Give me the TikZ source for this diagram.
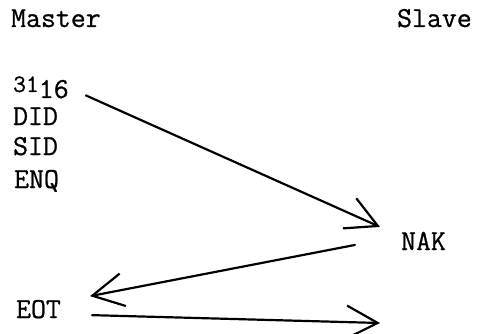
\documentclass[tikz,border=0pt]{standalone}
\usepackage{fontspec}
\newfontfamily\typer{Latin Modern Mono}[FakeBold=0.8]
\usepackage{tikz}
\usetikzlibrary{arrows.meta,positioning,calc}
\tikzset{
  every picture/.append style={line width=2.2pt},
  every node/.append style={font=\typer\fontsize{29}{31}\selectfont},
}
\newcommand{\hexval}[2]{\raisebox{6pt}{\fontsize{25}{27}\selectfont #1}#2}

\begin{document}
\begin{tikzpicture}[
  x=1pt, y=-1pt,
  lbl/.style={inner sep=0pt, anchor=base west},
  msg/.style={-{Straight Barb[length=31pt, width=33pt]}, line cap=round},
]
\useasboundingbox (0,0) rectangle (481,334);

% --- column heads ---
\node[lbl] (master) at (10,27) {Master};
\node[lbl] (slave) at (396,27) {Slave};

% --- master sends the poll sequence ---
\node[lbl] (hex) at (12,98) {\hexval{31}{16}};
\node[lbl] (did) at (12,125) {DID};
\node[lbl] (sid) at (12,155) {SID};
\node[lbl] (enq) at (13,188) {ENQ};

% --- replies ---
\node[lbl] (nak) at (400,250) {NAK};
\node[lbl] (eot) at (15,318) {EOT};
\coordinate (eotin) at (380,323);

% --- message arrows ---
\draw[msg] ([xshift=16pt,yshift=-8pt]hex.east) -- ([xshift=-20pt,yshift=14pt]nak.west);
\draw[msg] ([xshift=-45pt,yshift=-4pt]nak.west) -- ([xshift=28pt,yshift=13pt]eot.east);
\draw[msg] ([xshift=30pt,yshift=-6pt]eot.east) -- (eotin);

\end{tikzpicture}
\end{document}
